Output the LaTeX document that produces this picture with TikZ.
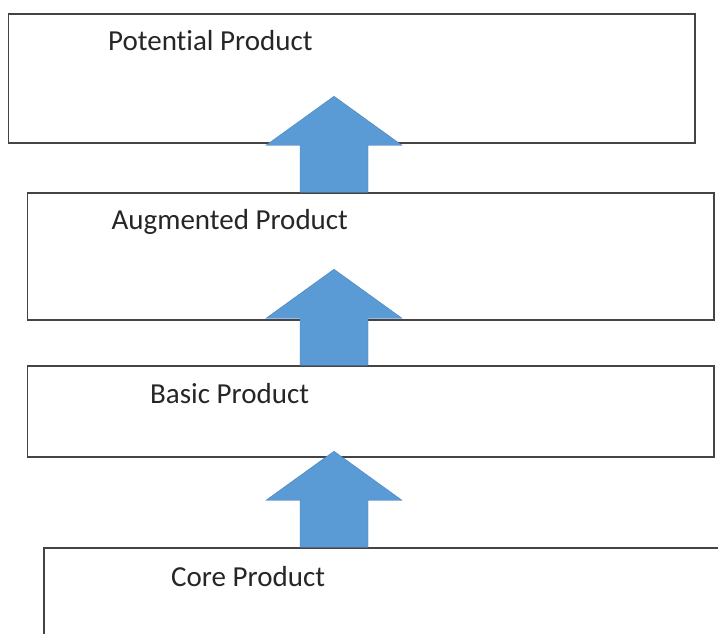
\documentclass[tikz,border=0pt]{standalone}
\usepackage{fontspec}
\setmainfont{Carlito}[Ligatures={NoCommon}]
\usetikzlibrary{positioning}

\definecolor{arrowblue}{RGB}{91,155,213}
\definecolor{arrowedge}{RGB}{72,130,190}
\definecolor{boxline}{RGB}{68,68,68}

\tikzset{
  levelbox/.style={draw=boxline, line width=1.5pt, fill=white, inner sep=0pt, minimum width=686.5pt},
  leveltext/.style={anchor=base west, inner sep=0pt, font=\fontsize{29}{34}\selectfont, text=black!85},
  blockarrow/.style={fill=arrowblue, draw=arrowedge, line width=0.4pt}
}

\newcommand{\uparrowfrom}[1]{%
  \filldraw[blockarrow] (axis |- #1.north) ++(-34,0) -- ++(0,-47) -- ++(-34,0)
    -- ++(68,-49) -- ++(68,49) -- ++(-34,0) -- ++(0,47) -- cycle;}

\begin{document}
\begin{tikzpicture}[x=1pt, y=-1pt]
  \useasboundingbox (0,0) rectangle (718,633);
  \clip (0,0) rectangle (718,633);
  \fill[white] (0,0) rectangle (718,633);
  \coordinate (axis) at (334,0);

  \node[levelbox, minimum height=129pt] (potential) at (351.5,78.5) {};
  \node[levelbox, minimum height=127pt] (augmented) at (370.8,256.5) {};
  \node[levelbox, minimum height=91pt] (basic) at (370.8,411.5) {};
  \node[levelbox, minimum height=100pt] (core) at (387,598) {};

  \node[leveltext] (potentialtxt) at (108,50.7) {Potential Product};
  \node[leveltext] (augmentedtxt) at (111.5,229.3) {Augmented Product};
  \node[leveltext] (basictxt) at (150,403) {Basic Product};
  \node[leveltext] (coretxt) at (171,586) {Core Product};

  \uparrowfrom{augmented}
  \uparrowfrom{basic}
  \uparrowfrom{core}
\end{tikzpicture}
\end{document}
